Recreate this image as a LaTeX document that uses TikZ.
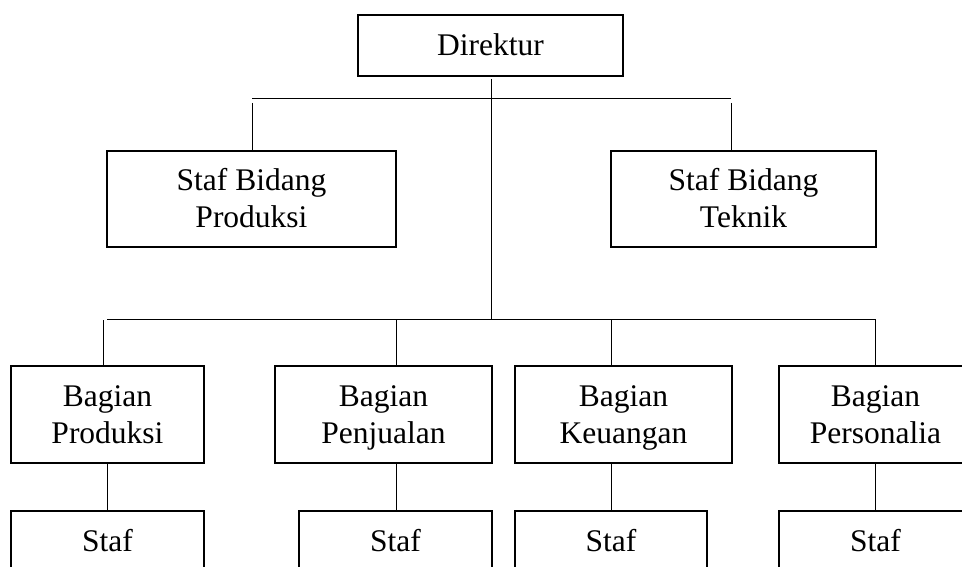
\documentclass[tikz,border=0pt]{standalone}
\usepackage{fontspec}
\setmainfont{Liberation Serif}
\newcommand{\lnstrut}{\rule[-7.5pt]{0pt}{35.5pt}}
\begin{document}
\begin{tikzpicture}[x=1pt,y=-1pt,
  orgbox/.style={draw=black, line width=1.3pt, inner sep=0pt, align=center,
    font=\fontsize{31.5}{36.5}\selectfont, anchor=center},
  link/.style={draw=black, line width=1pt}]
\useasboundingbox (0,0) rectangle (962,567);
\clip (0,0) rectangle (962,567);
% top
\node[orgbox, minimum width=265pt, minimum height=61pt] (dir) at (490.5,45.5) {\lnstrut Direktur};
\node[orgbox, minimum width=289pt, minimum height=96pt] (sbp) at (251.5,199) {\lnstrut Staf Bidang\\\lnstrut Produksi};
\node[orgbox, minimum width=265pt, minimum height=96pt] (sbt) at (743.5,199) {\lnstrut Staf Bidang\\\lnstrut Teknik};
% departments
\node[orgbox, minimum width=193pt, minimum height=97pt] (bp) at (107.5,414.5) {\lnstrut Bagian\\\lnstrut Produksi};
\node[orgbox, minimum width=217pt, minimum height=97pt] (bpj) at (383.5,414.5) {\lnstrut Bagian\\\lnstrut Penjualan};
\node[orgbox, minimum width=217pt, minimum height=97pt] (bk) at (623.5,414.5) {\lnstrut Bagian\\\lnstrut Keuangan};
\node[orgbox, minimum width=193pt, minimum height=97pt] (bps) at (875.5,414.5) {\lnstrut Bagian\\\lnstrut Personalia};
% staff
\node[orgbox, minimum width=193pt, minimum height=61pt] (s1) at (107.5,541.5) {\lnstrut Staf};
\node[orgbox, minimum width=193pt, minimum height=61pt] (s2) at (395.5,541.5) {\lnstrut Staf};
\node[orgbox, minimum width=192pt, minimum height=61pt] (s3) at (611,541.5) {\lnstrut Staf};
\node[orgbox, minimum width=193pt, minimum height=61pt] (s4) at (875.5,541.5) {\lnstrut Staf};
% coordinates
\coordinate (dtop) at (491,79);
\coordinate (hj) at (491,319);
\coordinate (tl) at (252,99);
\coordinate (tr) at (731,99);
\coordinate (tlv) at (252,103);
\coordinate (trv) at (731,103);
\coordinate (bl) at (107,319);
\coordinate (br) at (875,319);
\coordinate (blv) at (103,320);
\coordinate (c2) at (396,319);
\coordinate (c3) at (611,319);
% connectors
\draw[link] (dtop) -- (hj);
\draw[link] (tl) -- (tr);
\draw[link] (tlv) -- (sbp.north -| tlv);
\draw[link] (trv) -- (sbt.north -| trv);
\draw[link] (bl) -- (br);
\draw[link] (blv) -- (bp.north -| blv);
\draw[link] (c2) -- (bpj.north -| c2);
\draw[link] (c3) -- (bk.north -| c3);
\draw[link] (br) -- (bps.north -| br);
\draw[link] (bp.south -| bl) -- (s1.north -| bl);
\draw[link] (bpj.south -| c2) -- (s2.north -| c2);
\draw[link] (bk.south -| c3) -- (s3.north -| c3);
\draw[link] (bps.south -| br) -- (s4.north -| br);
\end{tikzpicture}
\end{document}
